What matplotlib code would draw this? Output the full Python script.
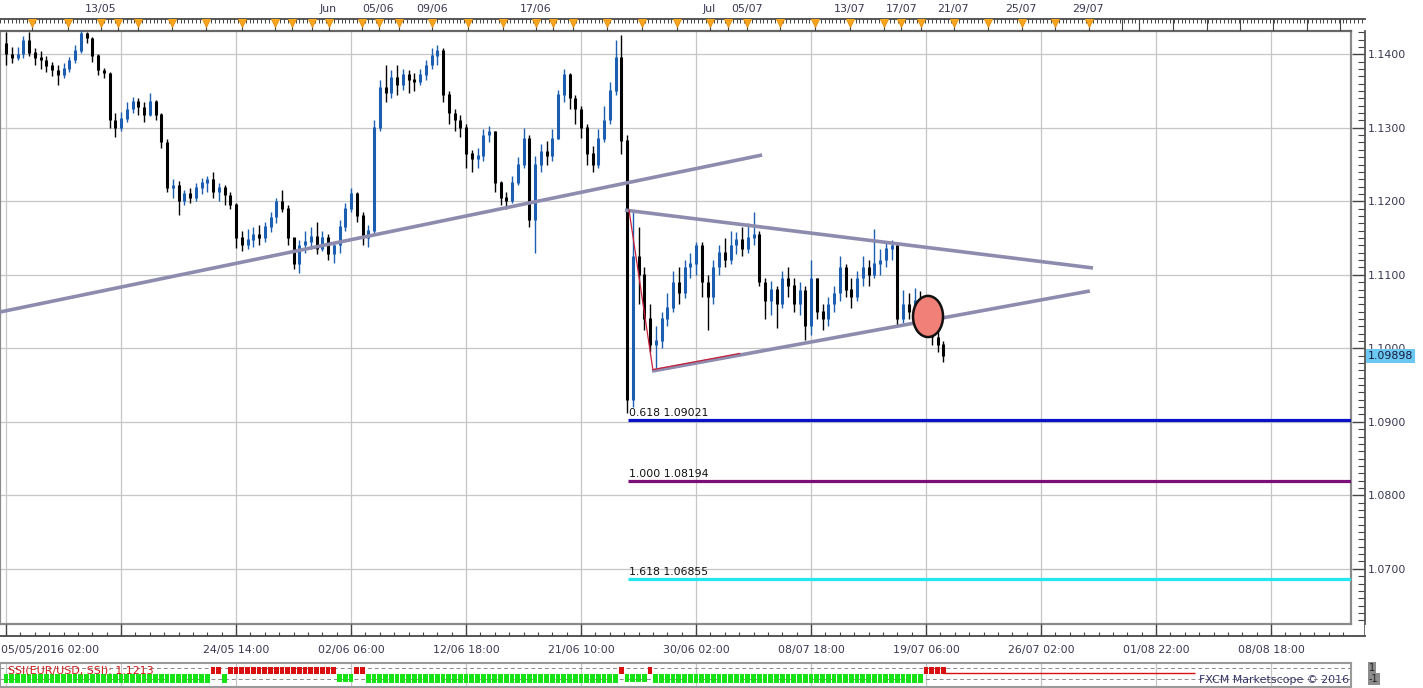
import matplotlib
matplotlib.use("Agg")
import matplotlib.pyplot as plt
import numpy as np
from matplotlib.patches import Ellipse

plt.rcParams['font.family'] = ['DejaVu Sans']

# EUR/USD 4h-ish candles (values in pips above 1.0000)
first_open = 1415
closes = [1400, 1395, 1400, 1418, 1402, 1395, 1392, 1384, 1378, 1372, 1380, 1392, 1405, 1428, 1422, 1398, 1378, 1374, 1310, 1300, 1312,
          1325, 1335, 1328, 1318, 1335, 1318, 1280, 1218, 1222, 1200, 1210, 1205, 1218, 1225, 1230, 1212, 1218, 1208, 1195, 1150,
          1140, 1148, 1155, 1150, 1165, 1178, 1200, 1190, 1150, 1115, 1140, 1145, 1152, 1135, 1150, 1128, 1140, 1165, 1190, 1210,
          1180, 1150, 1160, 1300, 1355, 1348, 1368, 1358, 1372, 1365, 1362, 1372, 1385, 1398, 1405, 1345, 1320, 1310, 1300, 1265,
          1258, 1262, 1290, 1295, 1225, 1205, 1200, 1225, 1250, 1285, 1175, 1250, 1268, 1262, 1285, 1345, 1372, 1340, 1325, 1300,
          1265, 1250, 1285, 1310, 1350, 1395, 1282, 930, 1125, 1100, 1040, 1005, 1010, 1040, 1055, 1090, 1075, 1110, 1115, 1140,
          1090, 1070, 1110, 1130, 1120, 1140, 1148, 1135, 1150, 1155, 1090, 1065, 1080, 1060, 1095, 1085, 1060, 1078, 1030, 1095,
          1050, 1040, 1060, 1075, 1110, 1080, 1070, 1095, 1110, 1100, 1115, 1120, 1135, 1140, 1040, 1060, 1050, 1065, 1055, 1035,
          1015, 1005, 989.8]
highs = [1430, 1410, 1410, 1425, 1430, 1408, 1405, 1398, 1390, 1385, 1388, 1396, 1412, 1433, 1430, 1424, 1400, 1382, 1376, 1320, 1322,
         1335, 1342, 1340, 1335, 1347, 1338, 1320, 1285, 1230, 1228, 1215, 1218, 1225, 1232, 1235, 1240, 1225, 1222, 1212, 1198,
         1160, 1162, 1165, 1168, 1172, 1185, 1205, 1215, 1195, 1150, 1148, 1160, 1165, 1172, 1160, 1155, 1145, 1175, 1198, 1218,
         1212, 1185, 1168, 1310, 1365, 1385, 1378, 1385, 1380, 1378, 1375, 1380, 1392, 1408, 1413, 1408, 1350, 1325, 1318, 1305,
         1270, 1272, 1298, 1302, 1296, 1228, 1212, 1235, 1260, 1300, 1290, 1262, 1278, 1282, 1298, 1352, 1380, 1375, 1345, 1330,
         1305, 1275, 1298, 1330, 1362, 1420, 1426, 1290, 1188, 1165, 1110, 1060, 1030, 1050, 1075, 1105, 1110, 1120, 1130, 1145,
         1145, 1100, 1120, 1140, 1150, 1160, 1158, 1165, 1170, 1185, 1160, 1095, 1092, 1085, 1105, 1110, 1095, 1090, 1085, 1120,
         1095, 1060, 1070, 1085, 1125, 1115, 1095, 1105, 1125, 1120, 1162, 1135, 1145, 1148, 1142, 1080, 1075, 1082, 1078, 1070,
         1045, 1025, 1010]
lows = [1385, 1388, 1392, 1395, 1398, 1386, 1380, 1376, 1370, 1358, 1368, 1376, 1388, 1402, 1416, 1390, 1372, 1368, 1300, 1287, 1296,
        1308, 1320, 1318, 1308, 1316, 1310, 1272, 1212, 1205, 1182, 1195, 1198, 1200, 1210, 1212, 1205, 1200, 1195, 1190, 1137,
        1132, 1135, 1138, 1140, 1145, 1158, 1170, 1185, 1140, 1108, 1103, 1130, 1135, 1128, 1132, 1120, 1116, 1130, 1160, 1185,
        1172, 1140, 1138, 1155, 1295, 1335, 1340, 1345, 1352, 1348, 1350, 1358, 1365, 1380, 1385, 1335, 1305, 1295, 1288, 1245,
        1240, 1245, 1255, 1280, 1212, 1195, 1190, 1198, 1222, 1245, 1165, 1130, 1240, 1250, 1255, 1285, 1335, 1325, 1305, 1286,
        1250, 1240, 1245, 1280, 1305, 1345, 1265, 912, 920, 1060, 1025, 995, 973, 1000, 1030, 1050, 1060, 1068, 1095, 1100,
        1070, 1025, 1060, 1100, 1110, 1115, 1128, 1125, 1130, 1140, 1085, 1040, 1045, 1028, 1055, 1070, 1050, 1045, 1011, 1018,
        1040, 1025, 1030, 1050, 1065, 1070, 1055, 1065, 1085, 1085, 1095, 1100, 1110, 1120, 1030, 1035, 1040, 1045, 1040, 1030,
        1005, 995, 982]

# SSI indicator as runs of (value, number of bars)
ssi_runs = [(-1.7, 36), (1.1, 2), (-1.7, 1), (1.1, 19), (-1.6, 3), (1.1, 2), (-1.7, 44), (1.1, 1),
            (-1.6, 4), (1.1, 1), (-1.7, 47), (1.1, 4)]

# drawn objects: (bar, price) pairs
trend_long = [(-1.04, 1.10494), (131.5, 1.1263)]
trend_upper = [(107.65, 1.1188), (189.04, 1.11093)]
trend_lower = [(112.35, 1.0969), (188.5, 1.1078)]
red_path = [(108.35, 1.1188), (112.5, 1.0971), (127.6, 1.0993)]
fib_start = 108.2
fib_ratios = ["0.618", "1.000", "1.618"]
fib_prices = [1.09021, 1.08194, 1.06855]
fib_colors = ["#0a12c8", "#7a0f78", "#22e6f0"]
circle_bar, circle_price = 160.35, 1.10433

grid_bars = list(range(0, 234, 20))
bottom_labels = ["24/05 14:00", "02/06 06:00", "12/06 18:00", "21/06 10:00", "30/06 02:00",
                 "08/07 18:00", "19/07 06:00", "26/07 02:00", "01/08 22:00", "08/08 18:00"]
top_labels = ["13/05", "Jun", "05/06", "09/06", "17/06", "Jul", "05/07", "13/07", "17/07", "21/07", "25/07", "29/07"]
top_label_bars = [16.5, 56.0, 64.7, 74.1, 92.2, 122.3, 128.9, 146.8, 155.7, 164.7, 176.5, 188.2]
event_bars = [4.5, 10.8, 16.5, 19.5, 23.0, 28.9, 34.8, 41.0, 46.8, 49.7, 53.2, 56.2, 61.9, 64.9, 68.3, 74.1,
              80.3, 86.4, 92.2, 95.1, 98.6, 104.5, 110.6, 116.7, 122.4, 125.6, 128.9, 134.6, 140.7, 146.8,
              152.7, 155.7, 159.1, 164.9, 170.8, 176.7, 182.4, 188.3]
day_bars = [194.1, 197.0, 203.0, 208.9, 214.6, 220.3, 226.3, 232.0]

W, H = 1423, 688
fig = plt.figure(figsize=(W / 100, H / 100), dpi=100)


def px_axes(x0, y0, x1, y1):
    return fig.add_axes([x0 / W, 1 - y1 / H, (x1 - x0) / W, (y1 - y0) / H])


def px2bar(x):
    return (x - 6) / 5.75


txt = '#383852'
border = '#8a8a8a'
gridc = '#c6c6c6'

# ---------------- main price panel
ax = px_axes(0, 31, 1351, 624)
ax.set_xlim(px2bar(0), px2bar(1351))
ax.set_ylim(1.06249, 1.14317)
ax.set_xticks(grid_bars)
ax.set_yticks(np.arange(1.07, 1.1451, 0.01))
ax.grid(color=gridc, lw=0.9)
ax.tick_params(length=0, labelbottom=False, labelleft=False)
for s in ax.spines.values():
    s.set_color(border)
    s.set_linewidth(1.6)
ax.spines['top'].set_color('#666666')

c = 1 + np.array(closes) / 1e4
o = np.concatenate([[1 + first_open / 1e4], c[:-1]])
hi = 1 + np.array(highs) / 1e4
lo = 1 + np.array(lows) / 1e4
x = np.arange(len(c))
cols = np.where(c >= o, '#1c5fb2', '#000000')
ax.vlines(x, lo, hi, colors=cols, lw=1.0, zorder=3)
ax.vlines(x, np.minimum(o, c), np.maximum(o, c) + 0.00008, colors=cols, lw=2.2, zorder=3)

for line in (trend_long, trend_upper, trend_lower):
    (x0, y0), (x1, y1) = line
    ax.plot([x0, x1], [y0, y1], color='#8d8cae', lw=2.6, solid_capstyle='butt', zorder=4)
ax.plot([p[0] for p in red_path], [p[1] for p in red_path], color='#c8203a', lw=0.9, zorder=5)

for r, p, col in zip(fib_ratios, fib_prices, fib_colors):
    ax.hlines(p, fib_start, px2bar(1351), color=col, lw=2.3, zorder=4)
    ax.annotate(f"{r} {p:.5f}", (fib_start + 0.2, p), xytext=(0, 1.5), textcoords='offset points',
                fontsize=7.8, color='#111111', va='bottom', ha='left', zorder=5)

ax.add_patch(Ellipse((circle_bar, circle_price), 5.22, 0.0056, fc='#f08078', ec='#111111', lw=1.8, zorder=6))

# ---------------- right price axis
rax = px_axes(1351, 31, 1365, 624)
rax.set_ylim(ax.get_ylim())
rax.set_xticks([])
for k in ('left', 'top', 'bottom'):
    rax.spines[k].set_visible(False)
rax.spines['right'].set_color('#555555')
rax.spines['right'].set_linewidth(1.3)
rax.patch.set_alpha(0)
rax.yaxis.tick_right()
rax.set_yticks(np.arange(1.07, 1.1451, 0.01))
rax.set_yticklabels([f"{v:.4f}" for v in np.arange(1.07, 1.1451, 0.01)])
rax.set_yticks(np.arange(1.063, 1.1431, 0.001), minor=True)
rax.tick_params(axis='y', which='major', direction='in', length=9.5, width=1, color='#444444',
                labelsize=7.9, labelcolor=txt, pad=2.2)
rax.tick_params(axis='y', which='minor', direction='in', length=5, width=0.8, color='#444444')
rax.annotate(f"{c[-1]:.5f}", (1, c[-1]), xycoords=rax.get_yaxis_transform(), xytext=(2, 0),
             textcoords='offset points', fontsize=7.9, color='#1a1a3a', va='center', ha='left',
             bbox=dict(boxstyle='square,pad=0.2', fc='#6ac8f2', ec='none'), zorder=10)

# ---------------- top time strip
tax = px_axes(0, 19, 1365, 31)
tax.set_xlim(px2bar(0), px2bar(1365))
tax.set_ylim(0, 12)
tax.axis('off')
tax.plot([px2bar(0), px2bar(1365)], [12, 12], color='#555555', lw=1.4, clip_on=False)
tax.vlines(np.arange(-1, 236, 0.667), 8.5, 12, color='#444444', lw=0.7)
tax.vlines(event_bars + day_bars, 0, 12, color='#444444', lw=0.8)
tax.plot(event_bars, [9.5] * len(event_bars), 'v', ms=6.5, color='#f7a51e', mec='#e88a00', mew=0.5, zorder=3)
for lab, b in zip(top_labels, top_label_bars):
    tax.text(b, 22, lab, fontsize=7.9, color=txt, ha='center', va='center', clip_on=False)

# ---------------- bottom time strip
bax = px_axes(0, 624, 1365, 636)
bax.set_xlim(px2bar(0), px2bar(1365))
bax.set_ylim(0, 12)
bax.axis('off')
bax.plot([px2bar(0), px2bar(1365)], [0, 0], color='#555555', lw=1.4, clip_on=False)
bax.vlines([px2bar(1365)], 0, 12, color='#555555', lw=1.2)
bax.vlines(grid_bars, 0, 12, color='#444444', lw=1)
bax.vlines(np.arange(0, 234, 2.5), 0, 4, color='#444444', lw=0.8)
bax.text(px2bar(1), -14, "05/05/2016 02:00", fontsize=7.9, color=txt, ha='left', va='center', clip_on=False)
for lab, b in zip(bottom_labels, grid_bars[2:]):
    bax.text(b, -14, lab, fontsize=7.9, color=txt, ha='center', va='center', clip_on=False)

# ---------------- SSI indicator panel
iax = px_axes(0, 663, 1351, 687)
iax.set_xlim(ax.get_xlim())
iax.set_ylim(-2.45, 1.91)
iax.set_xticks(grid_bars)
iax.set_yticks([])
iax.grid(axis='x', color=gridc, lw=0.9)
iax.tick_params(length=0, labelbottom=False)
for s in iax.spines.values():
    s.set_color('#9a9a9a')
    s.set_linewidth(1.5)
iax.axhline(1, color='#8a8a8a', lw=0.7, ls=(0, (4, 3)))
iax.axhline(-1, color='#8a8a8a', lw=0.7, ls=(0, (4, 3)))
ssi = np.concatenate([[v] * n for v, n in ssi_runs])
sx = np.arange(len(ssi))
iax.bar(sx, ssi, width=0.85, color=np.where(ssi > 0, '#d81010', '#16e216'), zorder=3)
iax.hlines(0.05, len(ssi) - 1, px2bar(1195), color='#d81010', lw=1, zorder=3)
iax.text(px2bar(8), 0.55, "SSI(EUR/USD, SSI): 1.1213", fontsize=7.9, color='#d01818', va='center', ha='left', zorder=4)
iax.text(px2bar(1349), -1.25, "FXCM Marketscope \u00a9 2016", fontsize=7.9, color='#333366', va='center', ha='right', zorder=4)

fig.text(1369 / W, 1 - 668 / H, "1", fontsize=7, color='#222222', va='center', ha='left',
         bbox=dict(boxstyle='square,pad=0.1', fc='#8c8c8c', ec='none'))
fig.text(1369 / W, 1 - 679 / H, "-1", fontsize=7, color='#222222', va='center', ha='left',
         bbox=dict(boxstyle='square,pad=0.1', fc='#8c8c8c', ec='none'))

fig.savefig("out.png", dpi=100, facecolor='white')
